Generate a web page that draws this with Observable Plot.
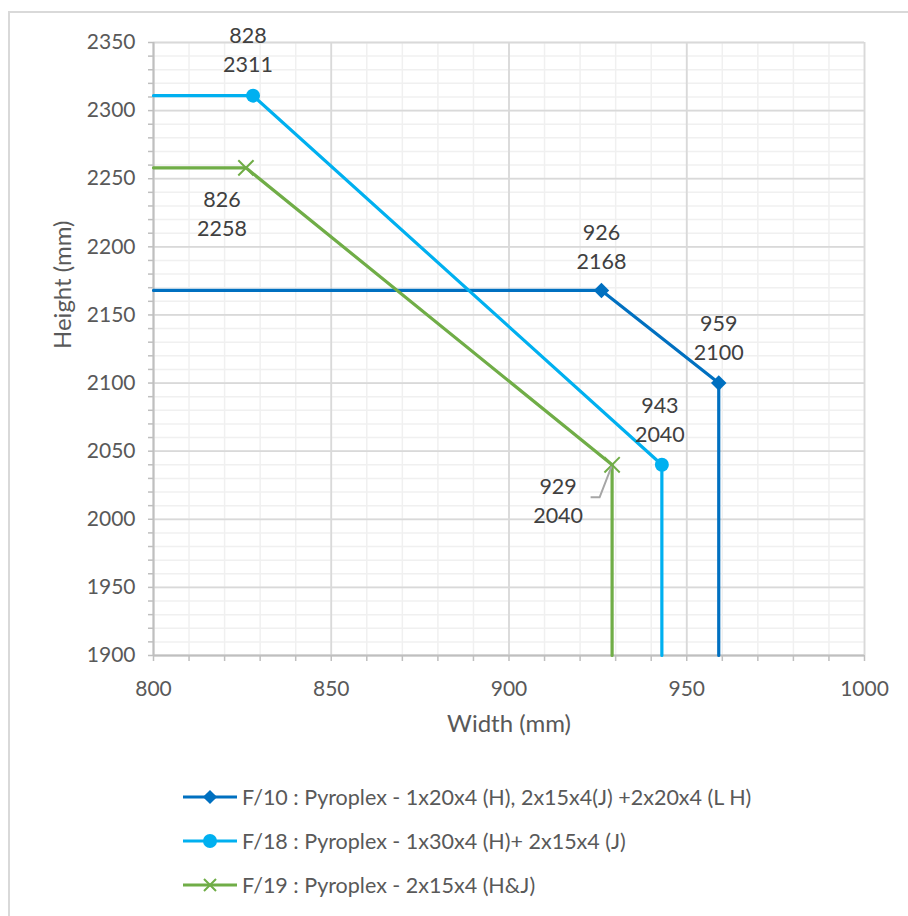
<!DOCTYPE html>
<html><head><meta charset="utf-8">
<script src="https://cdn.jsdelivr.net/npm/d3@7"></script>
<script src="https://cdn.jsdelivr.net/npm/@observablehq/plot@0.6"></script>
<style>
body{margin:0;background:#fff;font-family:Lato,sans-serif;}
#wrap{position:relative;width:908px;height:916px;overflow:hidden;background:#fff;}
#border{position:absolute;left:8px;top:11px;width:1000px;height:1000px;border:2px solid #d9d9d9;}
#chart{position:absolute;left:0;top:0;}
#legend{position:absolute;left:0;top:760px;}
</style></head><body>
<div id="wrap"><div id="border"></div><div id="chart"></div><div id="legend"></div></div>
<script>
// ---- data ----
const seriesNames = [
  "F/10 : Pyroplex - 1x20x4 (H), 2x15x4(J) +2x20x4 (L H)",
  "F/18 : Pyroplex - 1x30x4 (H)+ 2x15x4 (J)",
  "F/19 : Pyroplex - 2x15x4 (H&J)"
];
const seriesColors = ["#0070C0", "#00B0F0", "#70AD47"];
const f10Width  = [800, 926, 959, 959];
const f10Height = [2168, 2168, 2100, 1900];
const f18Width  = [800, 828, 943, 943];
const f18Height = [2311, 2311, 2040, 1900];
const f19Width  = [800, 826, 929, 929];
const f19Height = [2258, 2258, 2040, 1900];
const xTicks = [800, 850, 900, 950, 1000];
const yTicks = [1900, 1950, 2000, 2050, 2100, 2150, 2200, 2250, 2300, 2350];
const xMinor = d3.range(800, 1001, 10);
const yMinor = d3.range(1900, 2351, 10);
const xTitle = "Width (mm)";
const yTitle = "Height (mm)";

// ---- build ----
const widths = [f10Width, f18Width, f19Width];
const heights = [f10Height, f18Height, f19Height];
const series = seriesNames.map((name, s) => widths[s].map((w, i) => ({name, s, i, x: w, y: heights[s][i]})));
const marked = series.map(pts => pts.filter(p => p.i === 1 || p.i === 2));
const labelText = p => `${p.x}\n${p.y}`;
const pick = (s, i) => [series[s][i]];
const plain = d => String(d);

const labelStyle = {x: "x", y: "y", text: labelText, fill: "#404040", fontSize: 21.5, lineHeight: 1.36, textAnchor: "middle", lineAnchor: "middle"};

const chart = Plot.plot({
  width: 908, height: 760,
  marginLeft: 153, marginRight: 44, marginTop: 42, marginBottom: 105,
  x: {domain: [800, 1000]},
  y: {domain: [1900, 2350]},
  style: {fontFamily: "Lato, sans-serif", fontSize: "20px", color: "#595959", background: "transparent", overflow: "visible"},
  marks: [
    Plot.ruleX(xMinor, {stroke: "#f0f0f0", strokeWidth: 1.5}),
    Plot.ruleY(yMinor, {stroke: "#f0f0f0", strokeWidth: 1.5}),
    Plot.ruleX(xTicks, {stroke: "#d9d9d9", strokeWidth: 1.8}),
    Plot.ruleY(yTicks, {stroke: "#d9d9d9", strokeWidth: 1.8}),
    Plot.axisX(xMinor, {tickSize: 6, tickFormat: () => "", stroke: "#bfbfbf", strokeWidth: 1.5, label: null}),
    Plot.axisY(yMinor, {tickSize: 5, tickFormat: () => "", stroke: "#bfbfbf", strokeWidth: 1.5, label: null}),
    Plot.axisX(xTicks, {tickSize: 0, tickPadding: 26, tickFormat: plain, fontSize: 21, fill: "#595959", label: null}),
    Plot.axisY(yTicks, {tickSize: 0, tickPadding: 18, tickFormat: plain, fontSize: 21, fill: "#595959", label: null}),
    Plot.ruleX([800], {stroke: "#bfbfbf", strokeWidth: 2}),
    Plot.ruleY([1900], {stroke: "#bfbfbf", strokeWidth: 2}),
    Plot.text([xTitle], {frameAnchor: "bottom", dy: 69, text: d => d, fontSize: 24, fill: "#595959", lineAnchor: "middle"}),
    Plot.text([yTitle], {frameAnchor: "left", dx: -90.5, rotate: -90, text: d => d, fontSize: 24, fill: "#595959", lineAnchor: "middle"}),
    ...series.map((pts, s) => Plot.line(pts, {x: "x", y: "y", stroke: seriesColors[s], strokeWidth: 3.2})),
    Plot.dot(marked[0], {x: "x", y: "y", symbol: "square", rotate: 45, r: 6.2, fill: seriesColors[0]}),
    Plot.dot(marked[1], {x: "x", y: "y", symbol: "circle", r: 7, fill: seriesColors[1]}),
    Plot.dot(marked[2], {x: "x", y: "y", symbol: "times", r: 7, stroke: seriesColors[2], strokeWidth: 2}),
    Plot.text(pick(1, 1), {...labelStyle, dx: -5, dy: -47.5}),
    Plot.text(pick(2, 1), {...labelStyle, dx: -24, dy: 44.5}),
    Plot.text(pick(0, 1), {...labelStyle, dx: 0, dy: -45.5}),
    Plot.text(pick(0, 2), {...labelStyle, dx: 0, dy: -47}),
    Plot.text(pick(1, 2), {...labelStyle, dx: -2, dy: -46.5}),
    Plot.text(pick(2, 2), {...labelStyle, dx: -54, dy: 34.5})
  ]
});
document.getElementById("chart").appendChild(chart);

// leader line for the 929 / 2040 label
{
  const p = series[2][2];
  const px = chart.scale("x").apply(p.x), py = chart.scale("y").apply(p.y);
  d3.select(chart).append("path")
    .attr("d", `M${px},${py + 2}L${px - 12},${py + 33}L${px - 21},${py + 33}`)
    .attr("fill", "none").attr("stroke", "#a6a6a6").attr("stroke-width", 2);
}

// ---- legend ----
{
  const lg = d3.select("#legend").append("svg").attr("width", 908).attr("height", 156)
    .style("font-family", "Lato, sans-serif");
  const rowY = [37, 81, 125];
  seriesNames.forEach((name, s) => {
    const g = lg.append("g").attr("transform", `translate(0,${rowY[s]})`);
    g.append("line").attr("x1", 183).attr("x2", 237).attr("y1", 0).attr("y2", 0)
      .attr("stroke", seriesColors[s]).attr("stroke-width", 3.2);
    if (s === 0) {
      g.append("path").attr("transform", "translate(210,0) rotate(45)")
        .attr("d", d3.symbol(d3.symbolSquare, 100)()).attr("fill", seriesColors[s]);
    } else if (s === 1) {
      g.append("circle").attr("cx", 210).attr("cy", 0).attr("r", 7).attr("fill", seriesColors[s]);
    } else {
      g.append("path").attr("d", "M204,-6L216,6M204,6L216,-6")
        .attr("fill", "none").attr("stroke", seriesColors[s]).attr("stroke-width", 2);
    }
    g.append("text").attr("x", 242).attr("y", 0).attr("dy", "0.35em")
      .attr("font-size", 21.5).attr("fill", "#595959").text(name);
  });
}
</script>
</body></html>
